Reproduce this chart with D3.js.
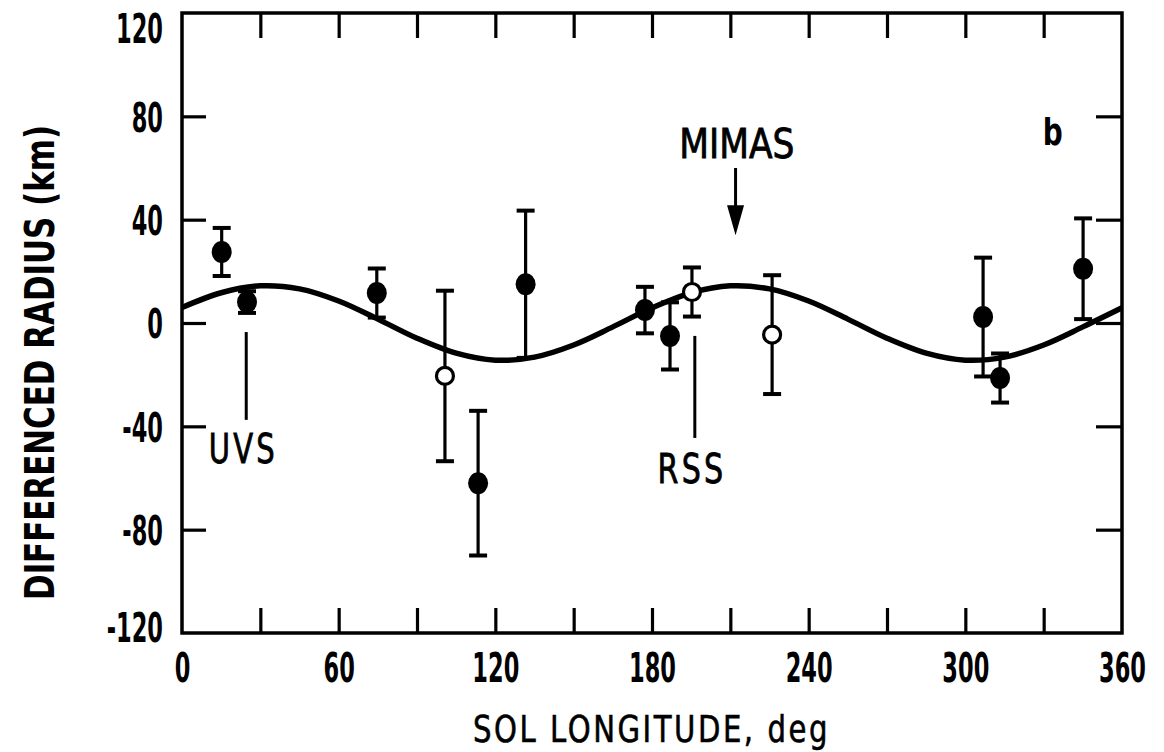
<!DOCTYPE html>
<html><head><meta charset="utf-8">
<script src="https://cdn.jsdelivr.net/npm/d3@7"></script>
<style>
body{margin:0;background:#fff;}
svg{display:block;}
text{fill:#000;}
</style></head>
<body><svg id="c" width="1164" height="752"></svg>
<script>
// ---- data ----
const xTicks = [0, 60, 120, 180, 240, 300, 360];
const xMinorTicks = [30, 60, 90, 120, 150, 180, 210, 240, 270, 300, 330];
const yTicks = [120, 80, 40, 0, -40, -80, -120];
const yInnerTicks = [80, 40, 0, -40, -80];

const filledX   = [15.2, 24.9, 74.6, 113.4, 131.6, 177.3, 186.9, 306.8, 313.3, 345.1];
const filledY   = [27.5, 8.1, 11.6, -62, 15, 5, -5, 2.3, -21.3, 21];
const filledErr = [9.3, 4.2, 9.5, 28, 28.5, 9, 13, 23, 9.5, 19.5];

const openX   = [100.7, 195.3, 226];
const openY   = [-20.5, 12, -4.5];
const openErr = [33, 9.5, 23];

const curveX = [0,15,30,45,60,75,90,105,120,135,150,165,180,195,210,225,240,255,270,285,300,315,330,345,360];
const curveY = [6,11.7,14.4,13.2,8.5,1.5,-5.9,-11.7,-14.4,-13.2,-8.5,-1.5,5.9,11.7,14.4,13.2,8.5,1.5,-5.9,-11.7,-14.4,-13.2,-8.5,-1.5,5.9];

const xTitle = "SOL LONGITUDE, deg";
const yTitle = "DIFFERENCED RADIUS (km)";

// ---- layout ----
const L = 182, R = 1122, T = 13, B = 633;
const x = d3.scaleLinear().domain([0, 360]).range([L, R]);
const y = d3.scaleLinear().domain([-120, 120]).range([B, T]);

const svg = d3.select("#c");
const FONT = "'DejaVu Sans Condensed','DejaVu Sans',sans-serif";
const SX = 0.61; // horizontal squeeze for tick labels

// frame
svg.append("rect").attr("x", L).attr("y", T).attr("width", R - L).attr("height", B - T)
  .attr("fill", "none").attr("stroke", "#000").attr("stroke-width", 3.5);

// ticks via axes
const tickStyle = g => { g.select(".domain").remove(); g.selectAll(".tick line").attr("stroke", "#000").attr("stroke-width", 3.2); g.selectAll(".tick text").remove(); };
svg.append("g").attr("transform", `translate(0,${B})`)
  .call(d3.axisBottom(x).tickValues(xMinorTicks).tickSize(-25)).call(tickStyle);
svg.append("g").attr("transform", `translate(0,${T})`)
  .call(d3.axisTop(x).tickValues(xMinorTicks).tickSize(-25)).call(tickStyle);
svg.append("g").attr("transform", `translate(${L},0)`)
  .call(d3.axisLeft(y).tickValues(yInnerTicks).tickSize(-24)).call(tickStyle);
svg.append("g").attr("transform", `translate(${R},0)`)
  .call(d3.axisRight(y).tickValues(yInnerTicks).tickSize(-26)).call(tickStyle);

// tick labels
const xl = svg.append("g").attr("transform", `translate(0,${B})`)
  .call(d3.axisBottom(x).tickValues(xTicks).tickSize(0).tickPadding(0).tickFormat(d => String(d)));
xl.select(".domain").remove();
xl.selectAll(".tick text").attr("y", 49).attr("dy", 0).attr("transform", `scale(${SX},1)`)
  .style("font-family", FONT).style("font-size", "41px").style("font-weight", "bold").attr("fill", "#000");

const yl = svg.append("g").attr("transform", `translate(${L},0)`)
  .call(d3.axisLeft(y).tickValues(yTicks).tickSize(0).tickPadding(0).tickFormat(d => String(d)));
yl.select(".domain").remove();
yl.selectAll(".tick text").attr("x", -19 / SX).attr("transform", `scale(${SX},1)`)
  .attr("dy", d => d === 120 ? "0.72em" : (d === -120 ? "0.2em" : "0.36em"))
  .style("font-family", FONT).style("font-size", "41px").style("font-weight", "bold").attr("fill", "#000");

// axis titles
svg.append("text").attr("x", (473 + 830) / 2).attr("y", 742).attr("text-anchor", "middle")
  .attr("textLength", 357).attr("lengthAdjust", "spacingAndGlyphs")
  .attr("stroke", "#000").attr("stroke-width", 0.6)
  .style("font-family", FONT).style("font-size", "38px").style("letter-spacing", "3px").text(xTitle);
svg.append("text").attr("transform", `translate(54,${(125 + 600) / 2}) rotate(-90)`).attr("text-anchor", "middle")
  .attr("textLength", 475).attr("lengthAdjust", "spacingAndGlyphs")
  .style("font-family", FONT).style("font-size", "40px").style("font-weight", "bold").text(yTitle);

// model curve
svg.append("path").datum(curveX.map((v, i) => [v, curveY[i]]))
  .attr("d", d3.line().x(d => x(d[0])).y(d => y(d[1])).curve(d3.curveCatmullRom))
  .attr("fill", "none").attr("stroke", "#000").attr("stroke-width", 5.5);

// error bars
function errBars(xs, ys, es) {
  const g = svg.append("g").attr("stroke", "#000");
  xs.forEach((v, i) => {
    g.append("line").attr("x1", x(v)).attr("x2", x(v)).attr("y1", y(ys[i] + es[i])).attr("y2", y(ys[i] - es[i])).attr("stroke-width", 3.2);
    [ys[i] + es[i], ys[i] - es[i]].forEach(e => {
      g.append("line").attr("x1", x(v) - 9).attr("x2", x(v) + 9).attr("y1", y(e)).attr("y2", y(e)).attr("stroke-width", 4);
    });
  });
}
errBars(filledX, filledY, filledErr);
errBars(openX, openY, openErr);

svg.append("g").selectAll("ellipse").data(filledX).join("ellipse")
  .attr("cx", d => x(d)).attr("cy", (d, i) => y(filledY[i])).attr("rx", 10).attr("ry", 11).attr("fill", "#000");
svg.append("g").selectAll("circle").data(openX).join("circle")
  .attr("cx", d => x(d)).attr("cy", (d, i) => y(openY[i])).attr("r", 8.5).attr("fill", "#fff")
  .attr("stroke", "#000").attr("stroke-width", 3.2);

// annotations
const ann = svg.append("g");
const annText = (tx, ty, s, len) => ann.append("text").attr("x", tx).attr("y", ty).attr("text-anchor", "middle")
  .attr("textLength", len).attr("lengthAdjust", "spacingAndGlyphs")
  .attr("stroke", "#000").attr("stroke-width", 0.8)
  .style("font-family", FONT).style("font-size", "41px").style("letter-spacing", "4px").text(s);
ann.append("line").attr("x1", x(24.6)).attr("x2", x(24.6)).attr("y1", y(-3.5)).attr("y2", y(-37.5)).attr("stroke", "#000").attr("stroke-width", 3);
annText(x(23.5), y(-54), "UVS", 69);
ann.append("line").attr("x1", x(196.4)).attr("x2", x(196.4)).attr("y1", y(-5)).attr("y2", y(-44.5)).attr("stroke", "#000").attr("stroke-width", 3);
annText(x(195.3), y(-62), "RSS", 69);
annText(x(212.5), y(64), "MIMAS", 115).style("letter-spacing", "0px");
const ax = x(212), ay1 = y(60), ay2 = y(34);
ann.append("line").attr("x1", ax).attr("x2", ax).attr("y1", ay1).attr("y2", ay2 - 20).attr("stroke", "#000").attr("stroke-width", 3);
ann.append("path").attr("d", `M${ax - 8.5},${ay2 - 30} L${ax + 8.5},${ay2 - 30} L${ax},${ay2} Z`).attr("fill", "#000");
ann.append("text").attr("x", x(333.5)).attr("y", y(69)).attr("text-anchor", "middle")
  .attr("textLength", 20).attr("lengthAdjust", "spacingAndGlyphs")
  .style("font-family", FONT).style("font-size", "38px").style("font-weight", "bold").text("b");
</script></body></html>
